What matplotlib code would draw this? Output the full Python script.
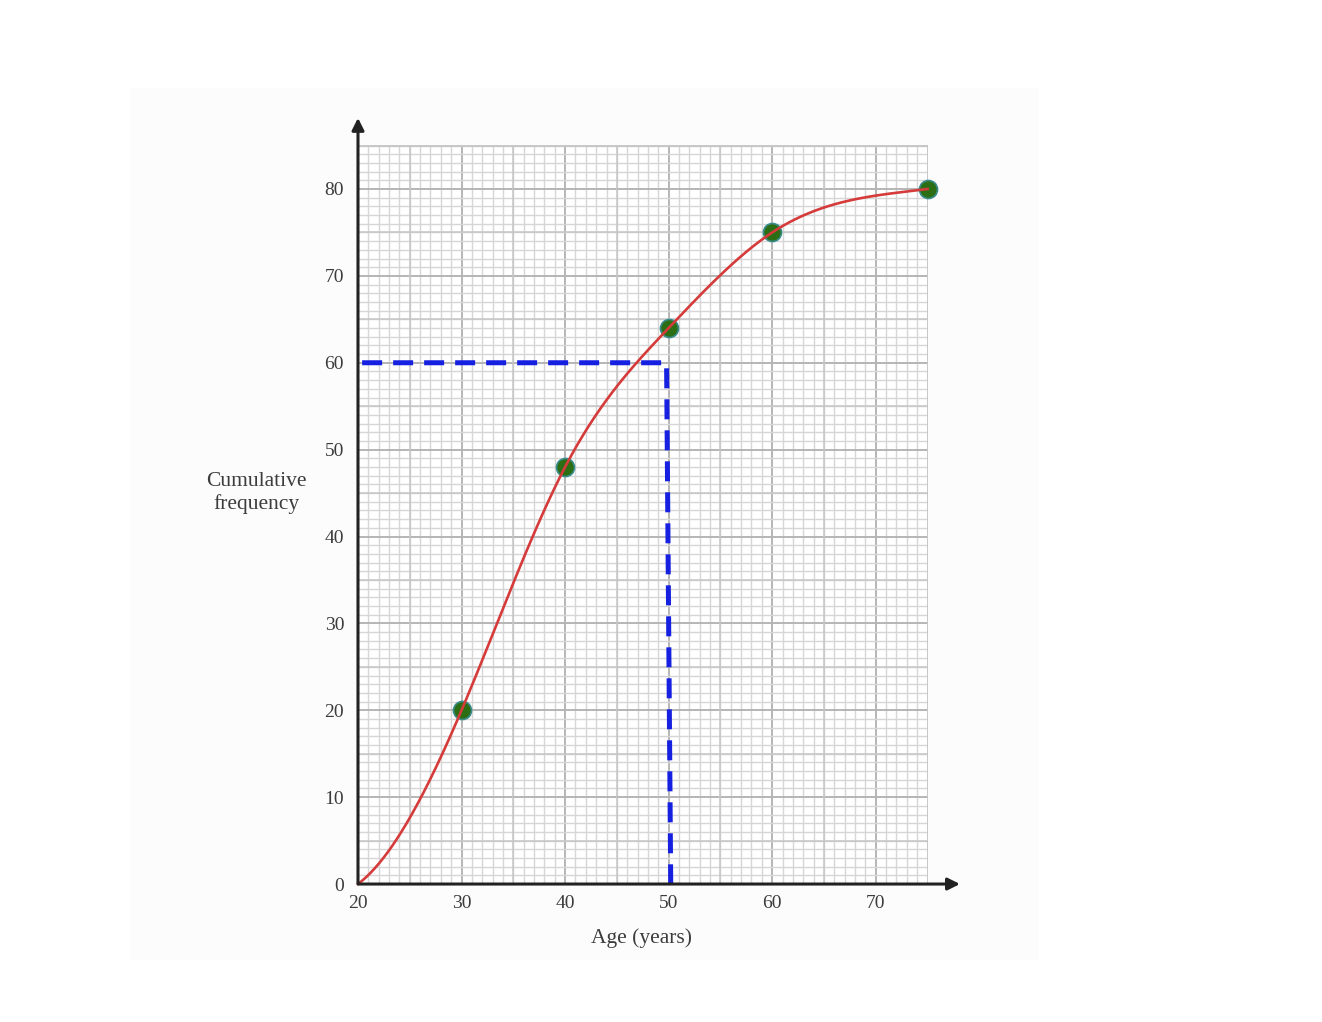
import numpy as np
import matplotlib.pyplot as plt
from matplotlib.patches import Rectangle

# cumulative frequency table
ages = [20, 30, 40, 50, 60, 75]
cum_freq = [0, 20, 48, 64, 75, 80]
# plotted points (first knot at 20 has no marker)
pt_ages = [30, 40, 50, 60, 75]
pt_freq = [20, 48, 64, 75, 80]
# reading of the 60th value
read_x = [20.4, 49.8, 50.2]
read_y = [60, 60, 0]
x_ticks = [20, 30, 40, 50, 60, 70]
y_ticks = [0, 10, 20, 30, 40, 50, 60, 70, 80]


def clamped_spline(x, y, s0, s1, xs):
    # cubic spline through the points with given end slopes
    x = np.asarray(x, float)
    y = np.asarray(y, float)
    n = len(x)
    h = np.diff(x)
    A = np.zeros((n, n))
    b = np.zeros(n)
    A[0, 0], A[0, 1] = 2 * h[0], h[0]
    b[0] = 6 * ((y[1] - y[0]) / h[0] - s0)
    A[-1, -2], A[-1, -1] = h[-1], 2 * h[-1]
    b[-1] = 6 * (s1 - (y[-1] - y[-2]) / h[-1])
    for i in range(1, n - 1):
        A[i, i - 1] = h[i - 1]
        A[i, i] = 2 * (h[i - 1] + h[i])
        A[i, i + 1] = h[i]
        b[i] = 6 * ((y[i + 1] - y[i]) / h[i] - (y[i] - y[i - 1]) / h[i - 1])
    M = np.linalg.solve(A, b)
    out = np.empty_like(xs)
    for j, xv in enumerate(xs):
        k = int(np.clip(np.searchsorted(x, xv) - 1, 0, n - 2))
        a = x[k + 1] - xv
        c = xv - x[k]
        out[j] = (M[k] * a**3 + M[k + 1] * c**3) / (6 * h[k]) \
            + (y[k] / h[k] - M[k] * h[k] / 6) * a + (y[k + 1] / h[k] - M[k + 1] * h[k] / 6) * c
    return out


plt.rcParams['font.family'] = ['Liberation Serif', 'DejaVu Serif']
txt_col = '#3c3c3c'

fig = plt.figure(figsize=(13.22, 10.22), dpi=100)
fig.patches.append(Rectangle((0.098, 0.061), 0.688, 0.853, transform=fig.transFigure,
                             facecolor='#fcfcfc', edgecolor='none', zorder=-5))

ax = fig.add_axes([0.2708, 0.135, 0.4312, 0.723])
ax.set_zorder(2)
ax.set_facecolor('white')
ax.set_xlim(20, 75.05)
ax.set_ylim(0, 85.05)

# graph paper grid
ax.set_xticks(np.arange(20, 76, 1), minor=True)
ax.set_yticks(np.arange(0, 86, 1), minor=True)
ax.grid(which='minor', color='#d6d6d6', linewidth=1.0)
for v in np.arange(25, 76, 10):
    ax.axvline(v, color='#c6c6c6', linewidth=1.1, zorder=0.6)
for v in np.arange(5, 86, 10):
    ax.axhline(v, color='#c6c6c6', linewidth=1.1, zorder=0.6)
ax.set_xticks(x_ticks)
ax.set_yticks(y_ticks)
ax.grid(which='major', color='#b5b5b5', linewidth=1.4)
ax.axvline(75, color='#c6c6c6', linewidth=1.1)
ax.axhline(85, color='#c6c6c6', linewidth=1.1)
ax.set_axisbelow(True)

ax.tick_params(which='both', length=0, labelsize=14, labelcolor=txt_col)
ax.tick_params(axis='x', pad=8)
ax.tick_params(axis='y', pad=10)
for s in ax.spines.values():
    s.set_visible(False)

# axes with arrows
ax.annotate('', xy=(78.4, 0), xytext=(19.8, 0), xycoords='data',
            arrowprops=dict(arrowstyle='-|>', color='#222222', lw=2.2, mutation_scale=18),
            annotation_clip=False, zorder=6)
ax.annotate('', xy=(20, 88.5), xytext=(20, -0.3), xycoords='data',
            arrowprops=dict(arrowstyle='-|>', color='#222222', lw=2.2, mutation_scale=18),
            annotation_clip=False, zorder=6)

# dashed reading lines
ax.plot(read_x, read_y, color='#1620e0', linewidth=3.6, linestyle=(0, (4, 2.2)),
        solid_capstyle='butt', zorder=3)

# points and smooth curve
ax.plot(pt_ages, pt_freq, 'o', markersize=13, markerfacecolor='#2b6e14',
        markeredgecolor='#3a8c8c', markeredgewidth=1.2, zorder=4, clip_on=False)
xs = np.linspace(ages[0], ages[-1], 400)
ax.plot(xs, clamped_spline(ages, cum_freq, 0.9, 0.15, xs), color='#d63b3b',
        linewidth=1.9, zorder=5, clip_on=False)

fig.text(0.1937, 0.5176, 'Cumulative\nfrequency', ha='center', va='center',
         fontsize=15.5, color=txt_col, linespacing=1.15)
fig.text(0.4856, 0.0822, 'Age (years)', ha='center', va='center', fontsize=15.5, color=txt_col)

fig.savefig('out.png', dpi=100)
